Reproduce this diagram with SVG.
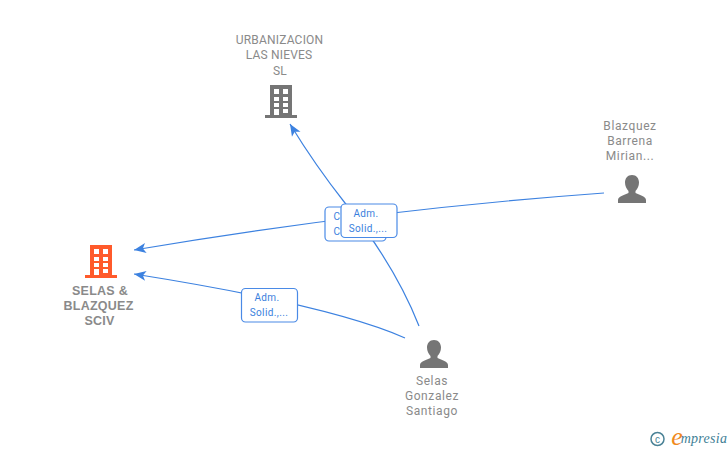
<svg xmlns="http://www.w3.org/2000/svg" width="728" height="450" viewBox="0 0 728 450">
<style>
text{font-family:Roboto,"Liberation Sans",sans-serif;text-anchor:middle}
.n{font-size:12px;fill:#8a8a8a;letter-spacing:.6px}
.u{font-size:12px;fill:#8a8a8a;letter-spacing:.2px}
.b{font-size:12.5px;font-weight:700;fill:#8a8a8a;letter-spacing:.25px;font-family:"Liberation Sans",sans-serif}
.l{font-size:10px;fill:#3a7fdd;letter-spacing:.4px}
.c{fill:none;stroke:#3d82e0;stroke-width:1.2}
.box{fill:#fff;stroke:#4a8ae6;stroke-width:1.2}
</style>
<defs>
<marker id="a" markerUnits="userSpaceOnUse" markerWidth="13" markerHeight="12" refX="12" refY="5" orient="auto" viewBox="0 0 13 10"><path d="M12 5L0 0L3 5L0 10Z" fill="#3d82e0"/></marker>
<path id="bld" d="M5 0H27V30H32V33H0V30H5Z"/>
<g id="win" fill="#fff"><rect x="9" y="4" width="5" height="5"/><rect x="18" y="4" width="5" height="5"/><rect x="9" y="12" width="5" height="4"/><rect x="18" y="12" width="5" height="4"/><rect x="9" y="18" width="5" height="4"/><rect x="18" y="18" width="5" height="4"/><rect x="9" y="24" width="5" height="6"/><rect x="18" y="24" width="5" height="4"/></g>
<path id="per" d="M14 0C18.500 0 21 3.500 21 7.500C21 11 19.500 14 17.500 16V18C22 20 28 21.500 28 25V28H0V25C0 21.500 6 20 10.500 18V16C8.500 14 7 11 7 7.500C7 3.500 9.500 0 14 0Z"/>
</defs>
<g id="connectors">
<path class="c" d="M419 326Q395 265 345 203Q315 165 290 124" marker-end="url(#a)"/>
<path class="c" d="M604 193Q370 210 134 250" marker-end="url(#a)"/>
<path class="c" d="M405 338Q330 305 134 274" marker-end="url(#a)"/>
</g>
<g id="label-1"><rect class="box" x="241.500" y="288.500" width="56" height="33.500" rx="4"/><text class="l" x="267" y="301">Adm.</text><text class="l" x="269" y="316">Solid.,...</text></g>
<g id="label-2"><rect class="box" x="325" y="207" width="61" height="34" rx="4"/><text class="l" x="337" y="220">C</text><text class="l" x="337" y="235">C</text></g>
<g id="label-3"><rect class="box" x="341" y="204" width="56" height="33.500" rx="4"/><text class="l" x="366" y="217">Adm.</text><text class="l" x="368" y="232">Solid.,...</text></g>
<g id="node-selas-blazquez">
<use href="#bld" x="85" y="245" fill="#ff5a2b"/><use href="#win" x="85" y="245"/>
<text class="b" x="100" y="295">SELAS &amp;</text><text class="b" x="98.500" y="310">BLAZQUEZ</text><text class="b" x="99.500" y="325">SCIV</text>
</g>
<g id="node-urbanizacion">
<use href="#bld" x="265" y="85" fill="#757575"/><use href="#win" x="265" y="85"/>
<text class="u" x="279.500" y="44">URBANIZACION</text><text class="u" x="279" y="59">LAS NIEVES</text><text class="u" x="280" y="75">SL</text>
</g>
<g id="node-blazquez">
<use href="#per" x="618" y="175" fill="#757575"/>
<text class="n" x="630" y="130">Blazquez</text><text class="n" x="630" y="145">Barrena</text><text class="n" x="630" y="160">Mirian...</text>
</g>
<g id="node-selas">
<use href="#per" x="420" y="340" fill="#757575"/>
<text class="n" x="432" y="385">Selas</text><text class="n" x="432" y="400">Gonzalez</text><text class="n" x="432" y="415">Santiago</text>
</g>
<g id="logo">
<circle cx="657.500" cy="439" r="6.500" fill="none" stroke="#4a8296" stroke-width="1.500"/>
<text x="657.500" y="442.500" style="font-size:10px;fill:#4a8296;font-family:'Liberation Sans',sans-serif">c</text>
<text x="677" y="445" style="font-size:26px;font-style:italic;fill:#f08a1d;font-family:'Liberation Serif',serif">e</text>
<text x="704" y="443" style="font-size:14px;font-style:italic;fill:#3f7f96;font-family:'Liberation Serif',serif;letter-spacing:.3px">mpresia</text>
</g>
</svg>
